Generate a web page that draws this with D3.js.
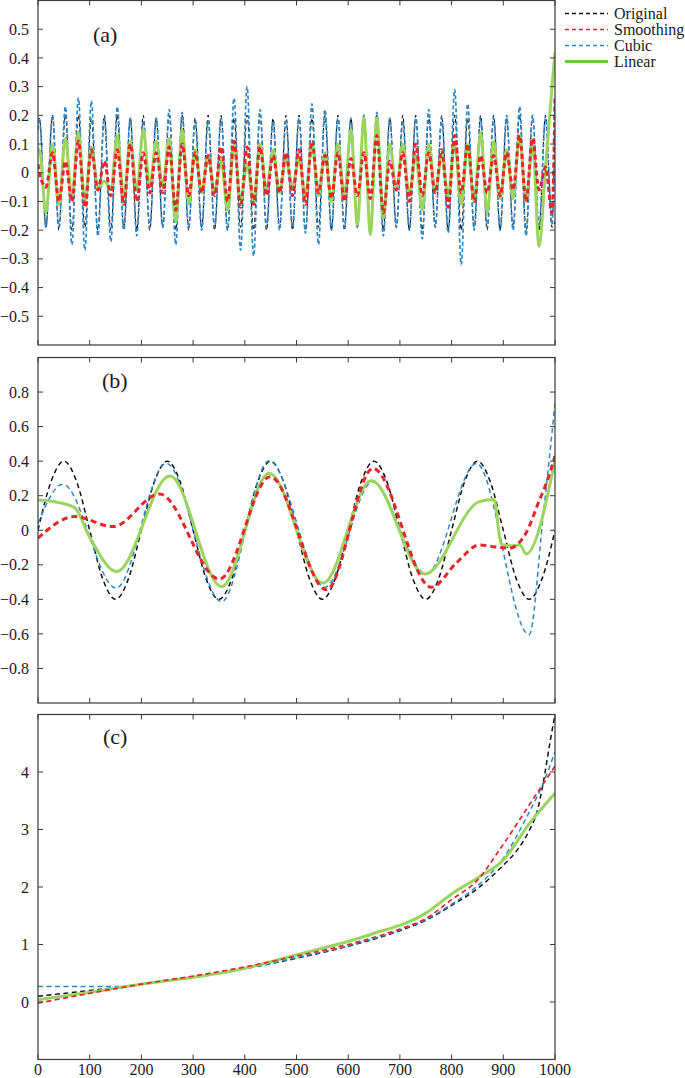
<!DOCTYPE html>
<html>
<head>
<meta charset="utf-8">
<script src="https://cdn.jsdelivr.net/npm/d3@7"></script>
<style>
  body { margin: 0; background: #fff; }
</style>
</head>
<body>
<svg id="chart" width="685" height="1078"></svg>
<script>
// ---- panel (a): extrema of each oscillation ----
var aOriginalPeaks = [0.19, 0.2, 0.2, 0.2, 0.19, 0.2, 0.2, 0.19, 0.2, 0.19, 0.2, 0.2, 0.19, 0.2, 0.2, 0.19, 0.2, 0.2, 0.19, 0.2,
                      0.2, 0.19, 0.2, 0.2, 0.19, 0.2, 0.2, 0.19, 0.2, 0.2, 0.19, 0.2, 0.2, 0.19, 0.2, 0.2, 0.19, 0.2, 0.2, 0.2],
    aOriginalTroughs = [-0.19, -0.2, -0.2, -0.19, -0.2, -0.2, -0.19, -0.2, -0.2, -0.19, -0.2, -0.2, -0.19, -0.2, -0.2, -0.19, -0.2, -0.2, -0.19, -0.2,
                        -0.2, -0.19, -0.2, -0.2, -0.19, -0.2, -0.2, -0.19, -0.2, -0.2, -0.19, -0.2, -0.2, -0.19, -0.2, -0.2, -0.19, -0.2, -0.2, -0.19],
    aOriginalEdge = [0.18, -0.17];

var aCubicPeaks = [0.19, 0.2, 0.23, 0.26, 0.25, 0.19, 0.23, 0.19, 0.18, 0.19, 0.22, 0.21, 0.18, 0.18, 0.19, 0.26, 0.3, 0.22, 0.18, 0.18,
                   0.19, 0.24, 0.22, 0.19, 0.19, 0.2, 0.21, 0.19, 0.18, 0.19, 0.22, 0.19, 0.29, 0.24, 0.19, 0.19, 0.2, 0.23, 0.2, 0.19],
    aCubicTroughs = [-0.19, -0.19, -0.25, -0.27, -0.22, -0.24, -0.2, -0.22, -0.19, -0.19, -0.25, -0.19, -0.2, -0.19, -0.2, -0.27, -0.29, -0.19, -0.2, -0.19,
                     -0.21, -0.25, -0.2, -0.19, -0.19, -0.2, -0.22, -0.19, -0.2, -0.23, -0.19, -0.21, -0.32, -0.2, -0.19, -0.2, -0.2, -0.22, -0.19, -0.18],
    aCubicEdge = [0.15, 0.25];

var aSmoothPeaks = [0.0, 0.07, 0.04, 0.11, 0.08, 0.04, 0.08, 0.1, 0.07, 0.07, 0.09, 0.1, 0.07, 0.06, 0.09, 0.11, 0.09, 0.09, 0.06, 0.07,
                    0.08, 0.11, 0.06, 0.07, 0.05, 0.07, 0.13, 0.04, 0.07, 0.1, 0.07, 0.08, 0.13, 0.1, 0.06, 0.06, 0.07, 0.13, 0.12, 0.02],
    aSmoothTroughs = [-0.05, -0.1, -0.1, -0.12, -0.06, -0.08, -0.11, -0.1, -0.07, -0.07, -0.13, -0.08, -0.07, -0.08, -0.1, -0.12, -0.11, -0.08, -0.07, -0.08,
                      -0.11, -0.07, -0.09, -0.1, -0.08, -0.09, -0.14, -0.06, -0.1, -0.08, -0.07, -0.12, -0.07, -0.1, -0.07, -0.08, -0.06, -0.1, -0.06, -0.14],
    aSmoothEdge = [0.03, 0.27];

var aLinearPeaks = [0.08, 0.1, 0.12, 0.14, 0.09, -0.03, 0.13, 0.11, 0.15, 0.11, 0.12, 0.15, 0.08, 0.06, 0.04, 0.1, 0.03, 0.1, 0.08, 0.05,
                    0.05, 0.1, 0.07, 0.1, 0.15, 0.19, 0.19, 0.1, 0.1, 0.06, 0.1, 0.06, 0.1, 0.1, 0.14, 0.11, 0.08, 0.13, 0.1, 0.02],
    aLinearTroughs = [-0.14, -0.11, -0.09, -0.1, -0.05, -0.06, -0.09, -0.06, -0.05, -0.05, -0.17, -0.11, -0.07, -0.07, -0.13, -0.1, -0.1, -0.06, -0.07, -0.05,
                      -0.08, -0.08, -0.1, -0.08, -0.18, -0.215, -0.16, -0.06, -0.08, -0.13, -0.07, -0.08, -0.11, -0.1, -0.14, -0.09, -0.09, -0.1, -0.256, 0.3],
    aLinearEdge = [0.08, 0.42];

// ---- panel (b) ----
var bOriginalX = d3.range(0, 1001, 25),
    bOriginalY = [0, 0.28, 0.4, 0.28, 0, -0.28, -0.4, -0.28, 0, 0.28, 0.4, 0.28, 0, -0.28, -0.4, -0.28, 0, 0.28, 0.4, 0.28, 0,
                  -0.28, -0.4, -0.28, 0, 0.28, 0.4, 0.28, 0, -0.28, -0.4, -0.28, 0, 0.28, 0.4, 0.28, 0, -0.28, -0.4, -0.28, 0];
var bCubicX = [0, 48, 151, 248, 355, 447, 555, 647, 751, 848, 950, 977, 1000],
    bCubicY = [0.04, 0.266, -0.335, 0.387, -0.413, 0.402, -0.33, 0.28, -0.253, 0.387, -0.605, 0.08, 0.734];
var bSmoothX = [0, 71, 145, 235, 351, 449, 558, 648, 761, 809, 854, 880, 912, 945, 970, 983, 1000],
    bSmoothY = [-0.046, 0.079, 0.021, 0.21, -0.283, 0.31, -0.345, 0.358, -0.33, -0.19, -0.085, -0.095, -0.104, -0.01, 0.175, 0.27, 0.43];
var bLinearX = [0, 40, 71, 100, 152, 255, 355, 447, 551, 645, 748, 854, 882, 896, 915, 932, 944, 1000],
    bLinearY = [0.175, 0.16, 0.13, -0.04, -0.239, 0.314, -0.326, 0.33, -0.306, 0.287, -0.253, 0.166, 0.178, -0.08, -0.09, -0.085, -0.137, 0.405];

// ---- panel (c) ----
var cOriginalX = [0, 100, 150, 200, 300, 400, 500, 600, 700, 750, 800, 850, 900, 925, 950, 965, 977, 990, 1000],
    cOriginalY = [0.1, 0.2, 0.25, 0.31, 0.43, 0.58, 0.76, 0.97, 1.24, 1.42, 1.68, 1.97, 2.38, 2.62, 2.98, 3.3, 3.8, 4.5, 5.0];
var cCubicX = [0, 100, 150, 200, 300, 400, 500, 600, 700, 750, 800, 850, 900, 950, 977, 1000],
    cCubicY = [0.27, 0.27, 0.27, 0.31, 0.43, 0.58, 0.77, 0.98, 1.25, 1.43, 1.7, 2.02, 2.5, 3.3, 3.8, 4.35];
var cSmoothX = [0, 100, 200, 300, 400, 500, 600, 700, 750, 800, 850, 893, 957, 1000],
    cSmoothY = [-0.02, 0.15, 0.31, 0.45, 0.61, 0.8, 1.0, 1.27, 1.45, 1.78, 2.12, 2.65, 3.52, 4.1];
var cLinearX = [0, 100, 200, 300, 371, 500, 642, 751, 800, 854, 900, 951, 1000],
    cLinearY = [0.04, 0.17, 0.31, 0.43, 0.53, 0.82, 1.17, 1.55, 1.88, 2.18, 2.47, 3.11, 3.63];

var xTicks = d3.range(0, 1001, 100);
var legendNames = ["Original", "Smoothing", "Cubic", "Linear"];

var colors = { orig: "#111111", smooth: "#e5262b", cubic: "#2f87c8", linear: "#9bd45e" };
var serif = "'Liberation Serif', 'Times New Roman', serif";

var svg = d3.select("#chart");

var x = d3.scaleLinear().domain([0, 1000]).range([38, 555]);

var panels = [
    { id: "a", label: "(a)", domain: [-0.6, 0.6], range: [345, 0.5], ticks: d3.range(-5, 6).map(function (d) { return d / 10; }), lx: 93, ly: 42 },
    { id: "b", label: "(b)", domain: [-1, 1], range: [703, 357.5], ticks: [-0.8, -0.6, -0.4, -0.2, 0, 0.2, 0.4, 0.6, 0.8], lx: 102, ly: 388 },
    { id: "c", label: "(c)", domain: [-1, 5], range: [1059.5, 714.5], ticks: [0, 1, 2, 3, 4], lx: 103, ly: 744 }
];

function fmt(d) {
    var s = d3.format("")(Math.round(d * 10) / 10);
    return s.replace("-", "\u2212");
}

// knots of panel (a): start, peak/trough pairs, end
function buildA(edge, peaks, troughs) {
    var pts = [[0, edge[0]]];
    for (var k = 0; k < peaks.length; k++) {
        pts.push([2.8 + 25.1 * k, peaks[k]]);
        pts.push([15.35 + 25.1 * k, troughs[k]]);
    }
    pts.push([1000, edge[1]]);
    return pts;
}

function zip(xs, ys) {
    return xs.map(function (d, i) { return [d, ys[i]]; });
}

panels.forEach(function (p) {
    var y = d3.scaleLinear().domain(p.domain).range(p.range);
    p.y = y;
    var g = svg.append("g").attr("class", "panel-" + p.id);

    g.append("clipPath").attr("id", "clip-" + p.id)
        .append("rect")
        .attr("x", x(0)).attr("y", p.range[1])
        .attr("width", x(1000) - x(0)).attr("height", p.range[0] - p.range[1]);

    p.plot = g.append("g").attr("clip-path", "url(#clip-" + p.id + ")");

    // ticks (inward, all four sides)
    var axes = g.append("g").attr("stroke", "#3a3a3a").attr("stroke-width", 1);
    xTicks.forEach(function (t) {
        axes.append("line").attr("x1", x(t)).attr("x2", x(t)).attr("y1", p.range[0]).attr("y2", p.range[0] - 5);
        axes.append("line").attr("x1", x(t)).attr("x2", x(t)).attr("y1", p.range[1]).attr("y2", p.range[1] + 5);
    });
    p.ticks.forEach(function (t) {
        axes.append("line").attr("x1", x(0)).attr("x2", x(0) + 5).attr("y1", y(t)).attr("y2", y(t));
        axes.append("line").attr("x1", x(1000)).attr("x2", x(1000) - 5).attr("y1", y(t)).attr("y2", y(t));
    });

    g.selectAll("text.ylab").data(p.ticks).enter().append("text")
        .attr("class", "ylab")
        .style("font-family", serif)
        .attr("fill", "#1a1a1a")
        .attr("x", 29).attr("y", function (d) { return y(d); })
        .attr("dy", "0.35em")
        .attr("text-anchor", "end")
        .attr("font-size", 16)
        .text(fmt);

    g.append("text").attr("x", p.lx).attr("y", p.ly)
        .style("font-family", serif)
        .attr("fill", "#1a1a1a")
        .attr("font-size", 22).text(p.label);

    p.frame = g;
});

function drawLine(p, pts, color, width, dash, curve) {
    var line = d3.line()
        .x(function (d) { return x(d[0]); })
        .y(function (d) { return p.y(d[1]); })
        .curve(curve || d3.curveMonotoneX);
    p.plot.append("path")
        .datum(pts)
        .attr("fill", "none")
        .attr("stroke", color)
        .attr("stroke-width", width)
        .attr("stroke-dasharray", dash)
        .attr("stroke-linejoin", "round")
        .attr("d", line);
}

var pa = panels[0], pb = panels[1], pc = panels[2];

// panel (a)
drawLine(pa, buildA(aOriginalEdge, aOriginalPeaks, aOriginalTroughs), colors.orig, 1.1, "4,3");
drawLine(pa, buildA(aCubicEdge, aCubicPeaks, aCubicTroughs), colors.cubic, 1.7, "4,2.5");
drawLine(pa, buildA(aLinearEdge, aLinearPeaks, aLinearTroughs), colors.linear, 3, null);
drawLine(pa, buildA(aSmoothEdge, aSmoothPeaks, aSmoothTroughs), colors.smooth, 3, "5,3");

// panel (b)
drawLine(pb, zip(bOriginalX, bOriginalY), colors.orig, 1.5, "5,3.5");
drawLine(pb, zip(bCubicX, bCubicY), colors.cubic, 1.5, "5,3.5");
drawLine(pb, zip(bLinearX, bLinearY), colors.linear, 3, null);
drawLine(pb, zip(bSmoothX, bSmoothY), colors.smooth, 3, "6,4");

// panel (c)
drawLine(pc, zip(cOriginalX, cOriginalY), colors.orig, 1.5, "5,3.5");
drawLine(pc, zip(cCubicX, cCubicY), colors.cubic, 1.5, "5,3.5");
drawLine(pc, zip(cLinearX, cLinearY), colors.linear, 3, null);
drawLine(pc, zip(cSmoothX, cSmoothY), colors.smooth, 1.7, "5,3.5");

// frames on top
panels.forEach(function (p) {
    p.frame.append("rect")
        .attr("x", x(0)).attr("y", p.range[1])
        .attr("width", x(1000) - x(0)).attr("height", p.range[0] - p.range[1])
        .attr("fill", "none").attr("stroke", "#3a3a3a").attr("stroke-width", 1.2);
});

// x tick labels under panel (c)
svg.selectAll("text.xlab").data(xTicks).enter().append("text")
    .attr("class", "xlab")
    .style("font-family", serif)
    .attr("fill", "#1a1a1a")
    .attr("x", function (d) { return x(d); })
    .attr("y", 1075)
    .attr("text-anchor", "middle")
    .attr("font-size", 16)
    .text(function (d) { return d; });

// legend
var legendStyles = [
    { color: colors.orig, width: 1.3, dash: "4,3" },
    { color: colors.smooth, width: 1.5, dash: "4,3" },
    { color: colors.cubic, width: 1.5, dash: "4,3" },
    { color: "#66cf38", width: 3, dash: null }
];
var legend = svg.append("g").attr("class", "legend");
legendNames.forEach(function (name, i) {
    var yy = 13.5 + i * 16;
    legend.append("line")
        .attr("x1", 565).attr("x2", 608).attr("y1", yy).attr("y2", yy)
        .attr("stroke", legendStyles[i].color)
        .attr("stroke-width", legendStyles[i].width)
        .attr("stroke-dasharray", legendStyles[i].dash);
    legend.append("text")
        .style("font-family", serif)
        .attr("fill", "#1a1a1a")
        .attr("x", 614).attr("y", yy).attr("dy", "0.35em")
        .attr("font-size", 16)
        .text(name);
});
</script>
</body>
</html>
